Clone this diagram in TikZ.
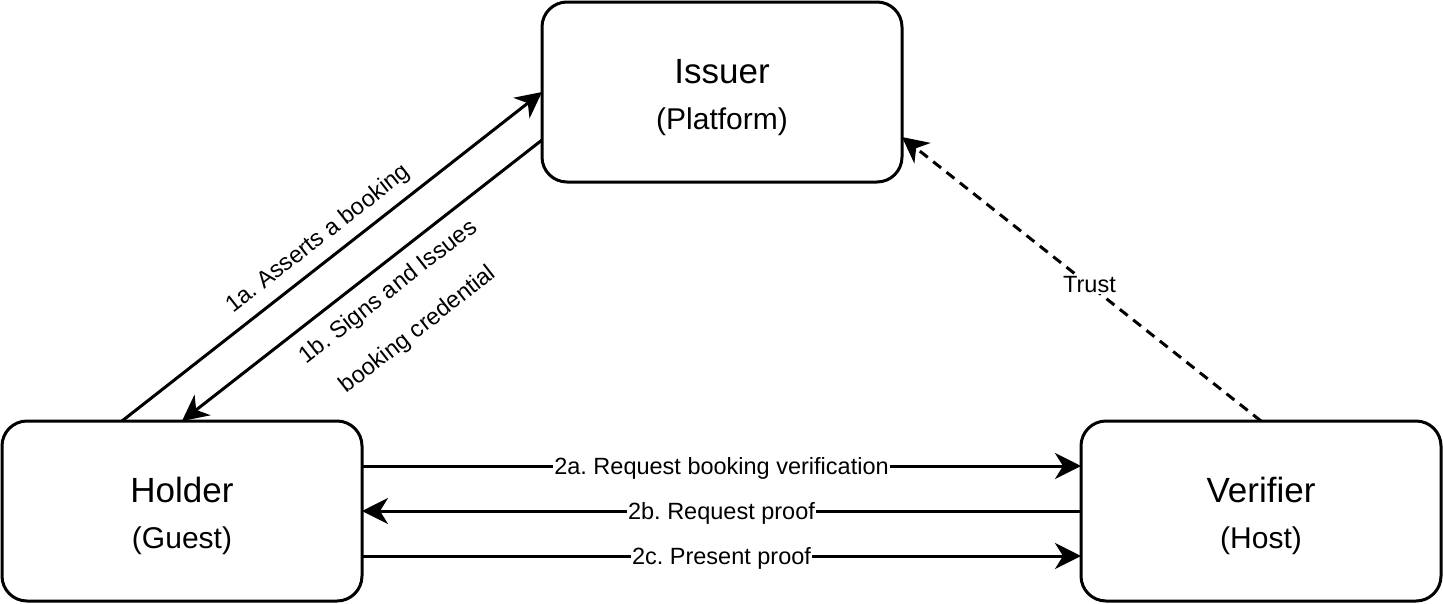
\documentclass[tikz,border=0pt]{standalone}
\usepackage{fontspec}
\setmainfont{Liberation Sans}
\frenchspacing
\usetikzlibrary{positioning,arrows.meta}
\newcommand{\Party}[2]{\rule{0pt}{35pt}#1\\{\fontsize{30}{36}\selectfont #2}}

\tikzset{
  party/.style={draw, line width=3pt, rounded corners=25pt, minimum width=360pt,
    minimum height=180pt, inner sep=0pt, outer sep=0pt, align=center,
    font=\fontsize{35}{46}\selectfont},
  flow/.style={line width=3pt, -{Stealth[length=26pt,width=26pt,inset=8pt]}},
  lbl/.style={font=\fontsize{23.5}{38}\selectfont},
  msg/.style={lbl, fill=white, inner sep=1pt, yshift=-2pt},
}

\begin{document}
\begin{tikzpicture}[x=1pt, y=1pt]
		\useasboundingbox (0,0) rectangle (1443,-603);
		% Define nodes
		\node[party] (holder) at (182,-511) {\Party{Holder}{(Guest)}};
		\node[party, right=719pt of holder] (verifier) {\Party{Verifier}{(Host)}};
		\node[party, above right=239pt and 180pt of holder] (issuer) {\Party{Issuer}{(Platform)}};

		% Connect the nodes
		\draw[flow] ([xshift=-60pt]holder.north) -- (issuer.west)
			node[lbl, midway, sloped, above=6pt] {1a. Asserts a booking};
		\draw[flow] ([yshift=-48pt]issuer.west) -- (holder.north)
			node[lbl, pos=0.47, sloped, below=10pt, align=center] {1b. Signs and Issues\\[10pt]booking credential};
		\draw[flow, dash pattern=on 10pt off 7pt] (verifier.north) -- ([yshift=-45pt]issuer.east)
			node[msg, midway, xshift=8pt, yshift=-4pt] {Trust};
		\draw[flow] ([yshift=45pt]holder.east) -- ([yshift=45pt]verifier.west)
			node[msg, midway] {2a. Request booking verification};
		\draw[flow] (verifier.west) -- (holder.east)
			node[msg, midway] {2b. Request proof};
		\draw[flow] ([yshift=-45pt]holder.east) -- ([yshift=-45pt]verifier.west)
			node[msg, midway] {2c. Present proof};
	\end{tikzpicture}
\end{document}
